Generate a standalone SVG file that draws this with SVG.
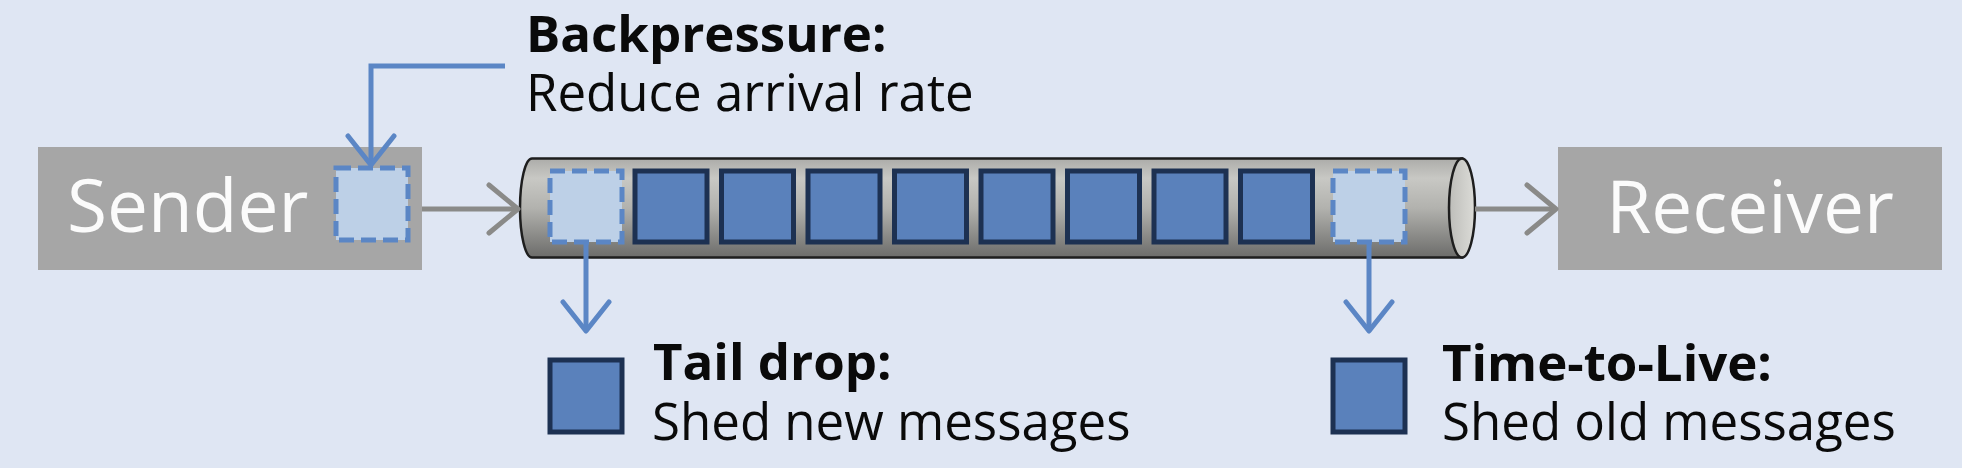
<svg xmlns="http://www.w3.org/2000/svg" width="1962" height="468" viewBox="0 0 1962 468">
  <style>
    .box { fill: #a6a6a6; }
    .boxlabel { font-family: "Open Sans", "Noto Sans", sans-serif; font-size: 73px; fill: #fbfbfb; }
    .head { font-family: "Open Sans", "Noto Sans", sans-serif; font-size: 51px; font-weight: 700; fill: #0a0a0a; }
    .body { font-family: "Open Sans", "Noto Sans", sans-serif; font-size: 51px; fill: #0a0a0a; }
    .ghost { fill: #bdd0e7; stroke: #5b86c5; stroke-width: 5; stroke-dasharray: 15 7; }
    .msg { fill: #5a81bb; stroke: #1d3152; stroke-width: 5; }
    .garrow { fill: none; stroke: #8a8a88; stroke-width: 5; }
    .barrow { fill: none; stroke: #5b86c5; stroke-width: 5; }
  </style>
  <defs>
    <linearGradient id="tubeGrad" x1="0" y1="0" x2="0" y2="1">
      <stop offset="0" stop-color="#acaca9"/>
      <stop offset="0.2" stop-color="#c8c8c4"/>
      <stop offset="0.5" stop-color="#b2b2ae"/>
      <stop offset="1" stop-color="#6c6c6a"/>
    </linearGradient>
    <linearGradient id="capGrad" x1="0" y1="0" x2="1" y2="0">
      <stop offset="0" stop-color="#bdbdb9"/>
      <stop offset="1" stop-color="#dcdcd8"/>
    </linearGradient>
    <marker id="gHead" viewBox="0 0 36 54" refX="32" refY="27" markerWidth="36" markerHeight="54" markerUnits="userSpaceOnUse" orient="auto">
      <path d="M 3 3 L 32 27 L 3 51" fill="none" stroke="#8a8a88" stroke-width="5" stroke-linecap="round" stroke-linejoin="round"/>
    </marker>
    <marker id="bHead" viewBox="0 0 36 54" refX="32" refY="27" markerWidth="36" markerHeight="54" markerUnits="userSpaceOnUse" orient="auto">
      <path d="M 3 4 L 32 27 L 3 50" fill="none" stroke="#5b86c5" stroke-width="5" stroke-linecap="round" stroke-linejoin="round"/>
    </marker>
  </defs>

  <rect x="0" y="0" width="1962" height="468" fill="#dfe6f3"/>

  <g id="sender">
    <rect class="box" x="38" y="147" width="384" height="123"/>
    <text class="boxlabel" x="67" y="232">Sender</text>
    <rect class="ghost" x="336" y="168" width="72" height="72"/>
  </g>

  <g id="queue">
    <path d="M 1462 158.5 L 532 158.5 A 12 49.5 0 0 0 532 257.5 L 1462 257.5 Z" fill="url(#tubeGrad)" stroke="#1e1e1e" stroke-width="2.5"/>
    <ellipse cx="1462" cy="208" rx="13" ry="49.5" fill="url(#capGrad)" stroke="#1e1e1e" stroke-width="2.5"/>
    <rect class="ghost" x="550" y="171" width="72" height="71"/>
    <rect class="msg" x="635" y="171" width="72" height="71"/>
    <rect class="msg" x="721.5" y="171" width="72" height="71"/>
    <rect class="msg" x="808" y="171" width="72" height="71"/>
    <rect class="msg" x="894.5" y="171" width="72" height="71"/>
    <rect class="msg" x="981" y="171" width="72" height="71"/>
    <rect class="msg" x="1067.5" y="171" width="72" height="71"/>
    <rect class="msg" x="1154" y="171" width="72" height="71"/>
    <rect class="msg" x="1240.5" y="171" width="72" height="71"/>
    <rect class="ghost" x="1333" y="171" width="72" height="71"/>
  </g>

  <g id="receiver">
    <rect class="box" x="1558" y="147" width="384" height="123"/>
    <text class="boxlabel" x="1750" y="233" text-anchor="middle">Receiver</text>
  </g>

  <g id="backpressure">
    <text class="head" x="526" y="52">Backpressure:</text>
    <text class="body" x="526" y="111">Reduce arrival rate</text>
  </g>

  <g id="taildrop">
    <rect class="msg" x="550" y="360" width="72" height="72"/>
    <text class="head" x="653" y="380">Tail drop:</text>
    <text class="body" x="652" y="440">Shed new messages</text>
  </g>

  <g id="ttl">
    <rect class="msg" x="1333" y="360" width="72" height="72"/>
    <text class="head" x="1442" y="381">Time-to-Live:</text>
    <text class="body" x="1442" y="440">Shed old messages</text>
  </g>

  <g id="connectors">
    <path class="garrow" d="M 422 209 L 518 209" marker-end="url(#gHead)"/>
    <path class="garrow" d="M 1475 209 L 1556 209" marker-end="url(#gHead)"/>
    <path class="barrow" d="M 505 66 L 371 66 L 371 165" marker-end="url(#bHead)"/>
    <path class="barrow" d="M 586 243 L 586 331" marker-end="url(#bHead)"/>
    <path class="barrow" d="M 1369 243 L 1369 331" marker-end="url(#bHead)"/>
  </g>
</svg>
